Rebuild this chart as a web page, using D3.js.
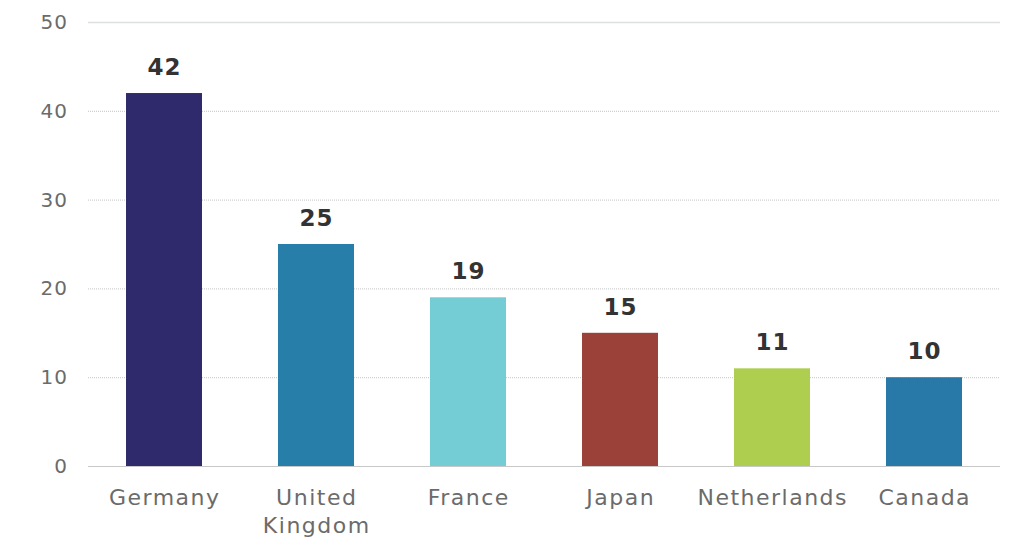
<!DOCTYPE html>
<html>
<head>
<meta charset="utf-8">
<script src="https://cdn.jsdelivr.net/npm/d3@7"></script>
<style>
  body { margin: 0; background: #fff; }
  svg { display: block; font-family: "DejaVu Sans", sans-serif; }
</style>
</head>
<body>
<svg id="chart" width="1012" height="543"></svg>
<script>
// data
const countries = ["Germany", "United Kingdom", "France", "Japan", "Netherlands", "Canada"];
const values = [42, 25, 19, 15, 11, 10];
const barColors = ["#2e2a6c", "#267ea9", "#74ccd4", "#9c413a", "#adce4e", "#2879a8"];
const yTicks = [0, 10, 20, 30, 40, 50];

const svg = d3.select('#chart');
const margin = { top: 22, right: 12, bottom: 77, left: 88 };
const W = 1012, H = 543;

const x = d3.scaleBand()
  .domain(countries)
  .range([margin.left, W - margin.right])
  .paddingInner(0.5)
  .paddingOuter(0.25);

const y = d3.scaleLinear()
  .domain([0, 50])
  .range([H - margin.bottom, margin.top]);

// gridlines
const grid = svg.append('g');
grid.selectAll('line')
  .data(yTicks)
  .join('line')
  .attr('x1', margin.left)
  .attr('x2', W - margin.right)
  .attr('y1', d => y(d) + 0.5)
  .attr('y2', d => y(d) + 0.5)
  .attr('stroke', d => d === 0 ? '#c8c8c8' : (d === 50 ? '#dcdfe0' : '#c4c4c4'))
  .attr('stroke-width', d => d === 50 ? 1.5 : 1)
  .attr('stroke-dasharray', d => (d === 0 || d === 50) ? null : '1,1');

// y axis labels
const yAxis = d3.axisLeft(y).tickValues(yTicks).tickSize(0).tickPadding(20);
svg.append('g')
  .attr('transform', `translate(${margin.left},0)`)
  .call(yAxis)
  .call(g => g.select('.domain').remove())
  .selectAll('text')
  .attr('fill', '#6b6b6b')
  .style('font-size', '20px')
  .style('letter-spacing', '1px')
  .style('font-family', '"DejaVu Sans", sans-serif');

// bars
svg.append('g').selectAll('rect')
  .data(countries)
  .join('rect')
  .attr('x', d => x(d))
  .attr('width', x.bandwidth())
  .attr('y', (d, i) => y(values[i]))
  .attr('height', (d, i) => y(0) - y(values[i]))
  .attr('fill', (d, i) => barColors[i]);

// value labels
svg.append('g').selectAll('text')
  .data(countries)
  .join('text')
  .attr('x', d => x(d) + x.bandwidth() / 2 + 0.5)
  .attr('y', (d, i) => y(values[i]) - 18)
  .attr('text-anchor', 'middle')
  .attr('fill', '#333')
  .style('font-size', '23px')
  .style('letter-spacing', '1px')
  .style('font-weight', 'bold')
  .text((d, i) => values[i]);

// category labels (wrap "United Kingdom")
const xl = svg.append('g').selectAll('text')
  .data(countries)
  .join('text')
  .attr('x', d => x(d) + x.bandwidth() / 2)
  .attr('y', y(0) + 39)
  .attr('text-anchor', 'middle')
  .attr('fill', '#6b6b6b')
  .style('font-size', '22px')
  .style('letter-spacing', '1.5px');

xl.each(function(d){
  const words = d === "United Kingdom" ? ["United", "Kingdom"] : [d];
  const t = d3.select(this);
  words.forEach((w, k) => {
    t.append('tspan')
      .attr('x', x(d) + x.bandwidth() / 2 + 0.75)
      .attr('dy', k === 0 ? 0 : 28)
      .text(w);
  });
});
</script>
</body>
</html>
